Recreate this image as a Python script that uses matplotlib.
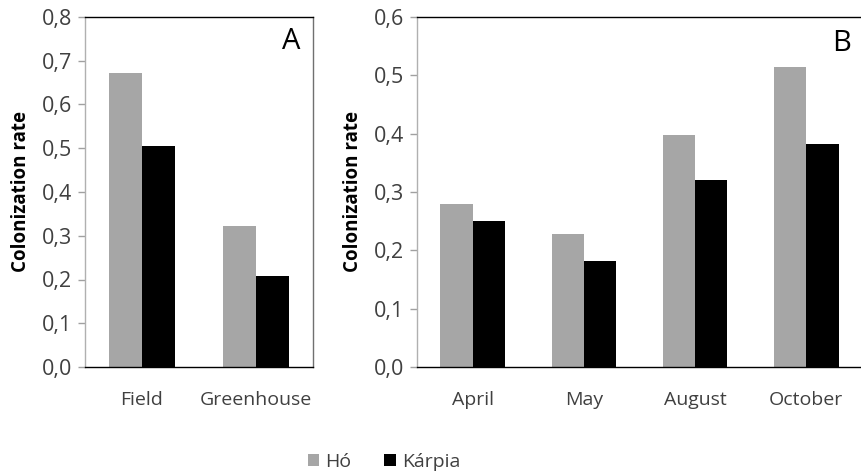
import matplotlib.pyplot as plt
import numpy as np

plt.rcParams['font.family'] = ['Open Sans', 'DejaVu Sans']

sites = ["Field", "Greenhouse"]
site_ho = [0.673, 0.322]
site_karpia = [0.505, 0.209]

months = ["April", "May", "August", "October"]
month_ho = [0.280, 0.228, 0.397, 0.515]
month_karpia = [0.251, 0.182, 0.320, 0.382]

series_names = ["Hó", "Kárpia"]
colors = ["#a6a6a6", "#000000"]
label_color = "#404040"


def draw_panel(ax, cats, ho, karpia, ymax, letter, letter_pos):
    x = np.arange(len(cats))
    w = 0.29
    ax.bar(x - w / 2, ho, w, color=colors[0], label=series_names[0])
    ax.bar(x + w / 2, karpia, w, color=colors[1], label=series_names[1])
    ax.set_xlim(-0.5, len(cats) - 0.5)
    ax.set_ylim(0, ymax)
    ticks = np.arange(0, ymax + 0.001, 0.1)
    ax.set_yticks(ticks)
    ax.set_yticklabels([f"{t:.1f}".replace(".", ",") for t in ticks])
    ax.set_xticks(x)
    ax.set_xticklabels(cats)
    ax.tick_params(axis="x", length=0, pad=17, labelsize=14, labelcolor=label_color)
    ax.tick_params(axis="y", length=5, width=1, color="#a0a0a0", pad=4,
                   labelsize=15.5, labelcolor=label_color)
    ax.spines["left"].set_color("#b0b0b0")
    ax.spines["bottom"].set_color("#000000")
    ax.spines["top"].set_color("#000000")
    ax.spines["right"].set_color("#707070")
    for s in ax.spines.values():
        s.set_linewidth(1)
    ax.set_ylabel("Colonization rate", fontsize=13.5, fontweight="bold",
                  color="#000000", labelpad=8)
    ax.text(letter_pos[0], letter_pos[1], letter, transform=ax.transAxes,
            fontsize=21, ha="right", va="center", color="#000000")


fig = plt.figure(figsize=(8.62, 4.72), dpi=100)
ax1 = fig.add_axes([85 / 862, 1 - 367 / 472, 228 / 862, 350 / 472])
ax2 = fig.add_axes([417 / 862, 1 - 367 / 472, 445 / 862, 350 / 472])

draw_panel(ax1, sites, site_ho, site_karpia, 0.8, "A", (0.945, 0.93))
draw_panel(ax2, months, month_ho, month_karpia, 0.6, "B", (0.975, 0.925))

handles, labels = ax1.get_legend_handles_labels()
fig.legend(handles, labels, loc="center", bbox_to_anchor=(384 / 862, 1 - 462 / 472),
           ncol=2, frameon=False, fontsize=14, handlelength=0.6, handleheight=0.6,
           handletextpad=0.3, columnspacing=1.7, labelcolor=label_color)

fig.savefig("out.png", dpi=100)
